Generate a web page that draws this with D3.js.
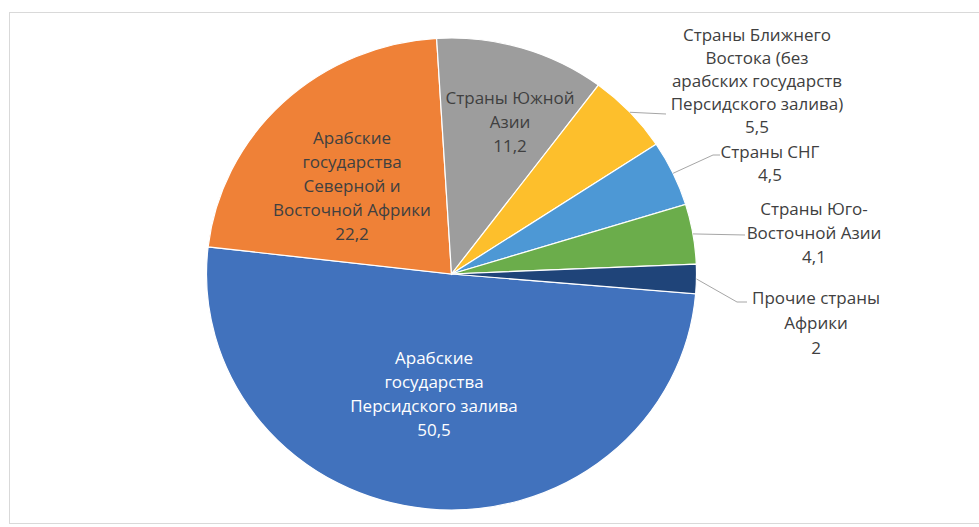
<!DOCTYPE html>
<html><head><meta charset="utf-8">
<script src="https://cdn.jsdelivr.net/npm/d3@7"></script>
<style>html,body{margin:0;padding:0;background:#fff;}svg{display:block;}</style>
</head><body>
<svg id="chart" width="979" height="527"></svg>
<script>
// ---- data ----
const categories = [
  "Арабские государства Персидского залива",
  "Арабские государства Северной и Восточной Африки",
  "Страны Южной Азии",
  "Страны Ближнего Востока (без арабских государств Персидского залива)",
  "Страны СНГ",
  "Страны Юго-Восточной Азии",
  "Прочие страны Африки"
];
const values = [50.5, 22.2, 11.2, 5.5, 4.5, 4.1, 2];
const valueLabels = ["50,5", "22,2", "11,2", "5,5", "4,5", "4,1", "2"];
const labelLines = [
  ["Арабские", "государства", "Персидского залива"],
  ["Арабские", "государства", "Северной и", "Восточной Африки"],
  ["Страны Южной", "Азии"],
  ["Страны Ближнего", "Востока (без", "арабских государств", "Персидского залива)"],
  ["Страны СНГ"],
  ["Страны Юго-", "Восточной Азии"],
  ["Прочие страны", "Африки"]
];
const colors = ["#4172bd", "#ef8137", "#9d9d9d", "#fdbf2c", "#4d98d5", "#6bad4b", "#1f4479"];

// ---- layout (not data) ----
const W = 979, H = 527;
const cx = 451.5, cy = 274, ry = 236, rx = 245;
const startDeg = 94.8;
// label block centre x, first-line y, line height, text colour, leader elbow points
const labelLayout = [
  {x: 434, y: 357, lh: 24, fill: "#ffffff", leader: null},
  {x: 352, y: 137, lh: 24, fill: "#404040", leader: null},
  {x: 510, y: 97,  lh: 24, fill: "#404040", leader: null},
  {x: 757, y: 34,  lh: 23, fill: "#404040", leader: [[666, 114]]},
  {x: 770, y: 151, lh: 23, fill: "#404040", leader: [[713, 155], [720, 155]]},
  {x: 814, y: 208, lh: 24, fill: "#404040", leader: [[745, 235]]},
  {x: 816, y: 297, lh: 25, fill: "#404040", leader: [[737, 302], [747, 302]]}
];

const svg = d3.select("#chart");

// frame
svg.append("rect").attr("x", 9.5).attr("y", 12.5).attr("width", 1000).attr("height", 511)
  .attr("fill", "none").attr("stroke", "#d9d9d9").attr("stroke-width", 1);

const pie = d3.pie().sort(null).value(d => d)
  .startAngle(startDeg * Math.PI / 180)
  .endAngle((startDeg + 360) * Math.PI / 180);
const arcs = pie(values);
const arc = d3.arc().innerRadius(0).outerRadius(ry);

const g = svg.append("g").attr("transform", `translate(${cx},${cy}) scale(${rx / ry},1)`);
g.selectAll("path").data(arcs).enter().append("path")
  .attr("d", arc)
  .attr("fill", (d, i) => colors[i])
  .attr("stroke", "#ffffff").attr("stroke-width", 1.2)
  .attr("vector-effect", "non-scaling-stroke");

// leader lines
arcs.forEach((a, i) => {
  const L = labelLayout[i];
  if (!L.leader) return;
  const mid = (a.startAngle + a.endAngle) / 2;
  const p0 = [cx + rx * Math.sin(mid), cy - ry * Math.cos(mid)];
  const pts = [p0].concat(L.leader);
  svg.append("path").attr("d", d3.line()(pts))
    .attr("fill", "none").attr("stroke", "#a6a6a6").attr("stroke-width", 1);
});

// labels
arcs.forEach((a, i) => {
  const L = labelLayout[i];
  const lines = labelLines[i].concat([valueLabels[i]]);
  const t = svg.append("text")
    .attr("text-anchor", "middle")
    .attr("font-family", "'Open Sans', 'Noto Sans', sans-serif")
    .attr("font-size", 17)
    .attr("fill", L.fill);
  lines.forEach((ln, k) => {
    t.append("tspan").attr("x", L.x).attr("y", L.y + k * L.lh)
      .attr("dominant-baseline", "central").text(ln);
  });
});
</script>
</body></html>
